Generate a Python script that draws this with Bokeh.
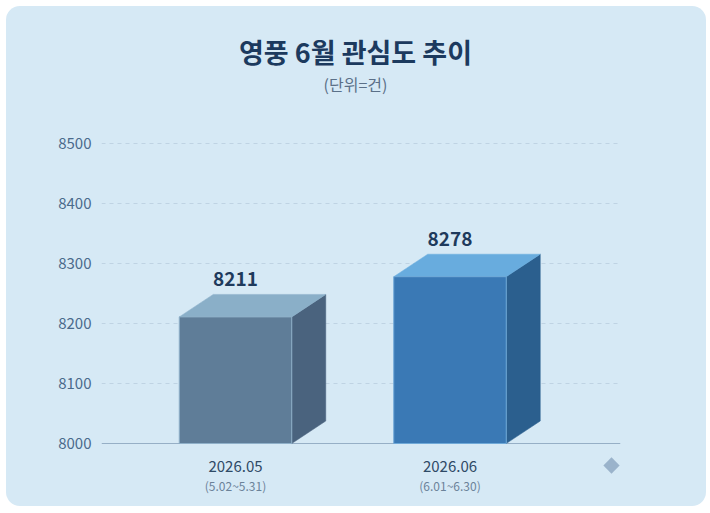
import numpy as np
from bokeh.plotting import figure
from bokeh.models import ColumnDataSource, FixedTicker, Span, Range1d
from bokeh.core.properties import value
from bokeh.embed import file_html
from bokeh.resources import INLINE

# ---------------- data ----------------
title_text = "영풍 6월 관심도 추이"
subtitle_text = "(단위=건)"
categories = ["2026.05", "2026.06"]
periods = ["(5.02~5.31)", "(6.01~6.30)"]
values = [8211, 8278]
y_ticks = [8000, 8100, 8200, 8300, 8400, 8500]

# ---------------- styles ----------------
FONT = "Noto Sans CJK KR"
PANEL = "#d6e9f5"
front_colors = ["#5f7d98", "#3a79b5"]
side_colors = ["#4a637e", "#2b5f8e"]
top_colors = ["#8aafc8", "#68acde"]
edge_colors = ["#8fb0c9", "#6fa9d8"]

# ---------------- layout (pixels) ----------------
FIG_W, FIG_H = 700, 500
FRAME_L, FRAME_R = 95, 614          # frame in figure px
BASE_Y_PX = 437                     # baseline (y = 8000) from figure top
PX_PER_UNIT = 0.6                   # vertical scale
CAT0_PX = 134                       # first category centre from frame left
CAT_STEP_PX = 214.5                 # distance between categories
BAR_W_PX = 112.5
DEPTH_X_PX = 34
DEPTH_Y_PX = 22.5

base = y_ticks[0]
frame_w = FRAME_R - FRAME_L
x_start = -CAT0_PX / CAT_STEP_PX
x_end = (frame_w - CAT0_PX) / CAT_STEP_PX
y_end = base + BASE_Y_PX / PX_PER_UNIT
y_start = base - (FIG_H - BASE_Y_PX) / PX_PER_UNIT


def dxu(px):
    return px / CAT_STEP_PX


def dyu(px):
    return px / PX_PER_UNIT


p = figure(width=FIG_W, height=FIG_H,
           x_range=Range1d(x_start, x_end), y_range=Range1d(y_start, y_end),
           output_backend="svg", toolbar_location=None,
           min_border_left=FRAME_L, min_border_right=FIG_W - FRAME_R,
           min_border_top=0, min_border_bottom=0)
p.margin = (6, 0, 0, 6)
p.styles = {"border-radius": "14px", "overflow": "hidden",
            "background-color": PANEL}
p.background_fill_color = None
p.border_fill_color = None
p.outline_line_color = None

p.xaxis.visible = False
p.xgrid.visible = False

yax = p.yaxis[0]
yax.ticker = FixedTicker(ticks=y_ticks)
yax.axis_line_color = None
yax.major_tick_line_color = None
yax.minor_tick_line_color = None
yax.major_tick_in = 0
yax.major_tick_out = 0
yax.major_label_standoff = 10
yax.major_label_text_font = FONT
yax.major_label_text_font_size = "15px"
yax.major_label_text_color = "#4a6a8c"

p.ygrid.ticker = FixedTicker(ticks=y_ticks[1:])
p.ygrid.grid_line_color = "#bfd3e3"
p.ygrid.grid_line_dash = "4 4"
p.ygrid.grid_line_width = 1

baseline = Span(location=base, dimension="width", line_color="#96afc6",
                line_width=1.2, level="underlay")
p.add_layout(baseline)

xs = list(range(len(categories)))
hw = dxu(BAR_W_PX) / 2
ddx = dxu(DEPTH_X_PX)
ddy = dyu(DEPTH_Y_PX)

side_xs, side_ys, top_xs, top_ys = [], [], [], []
for x, v in zip(xs, values):
    l, r = x - hw, x + hw
    side_xs.append([r, r + ddx, r + ddx, r])
    side_ys.append([base, base + ddy, v + ddy, v])
    top_xs.append([l, r, r + ddx, l + ddx])
    top_ys.append([v, v, v + ddy, v + ddy])

p.patches(xs=side_xs, ys=side_ys, fill_color=side_colors, line_color=side_colors,
          line_width=0.5)
p.patches(xs=top_xs, ys=top_ys, fill_color=top_colors, line_color=top_colors,
          line_width=0.5)

src = ColumnDataSource(dict(
    x=xs, v=values, base=[base] * len(xs),
    left=[x - hw for x in xs], right=[x + hw for x in xs],
    label=[str(v) for v in values], cat=categories, per=periods,
    fc=front_colors, ec=edge_colors,
))
p.quad(left="left", right="right", top="v", bottom="base", source=src,
       fill_color="fc", line_color="ec", line_width=1)

p.text(x="x", y="v", text="label", source=src, text_align="center",
       text_baseline="middle", y_offset=-38, text_font=value(FONT),
       text_font_size="19px", text_font_style="bold", text_color="#1e3a5c")

p.text(x="x", y="base", text="cat", source=src, text_align="center",
       text_baseline="middle", y_offset=23, text_font=value(FONT),
       text_font_size="15px", text_color="#2f4a66")
p.text(x="x", y="base", text="per", source=src, text_align="center",
       text_baseline="middle", y_offset=42, text_font=value(FONT),
       text_font_size="12px", text_color="#6b8299")

# decorative diamond, bottom right
p.scatter(x=[dxu(605 - FRAME_L - CAT0_PX)], y=[base - dyu(22)], marker="square",
          angle=np.pi / 4, size=11.5, fill_color="#9ab3cb", line_color=None)

# title and subtitle
title_x = dxu(349 - FRAME_L - CAT0_PX)
p.text(x=[title_x], y=[base + dyu(BASE_Y_PX - 45)], text=[title_text],
       text_align="center", text_baseline="middle", text_font=value(FONT),
       text_font_size="27px", text_font_style="bold", text_color="#1c3a5e")
p.text(x=[title_x], y=[base + dyu(BASE_Y_PX - 77)], text=[subtitle_text],
       text_align="center", text_baseline="middle", text_font=value(FONT),
       text_font_size="16px", text_color="#5b7088")

open("out.html", "w").write(file_html(p, INLINE))
